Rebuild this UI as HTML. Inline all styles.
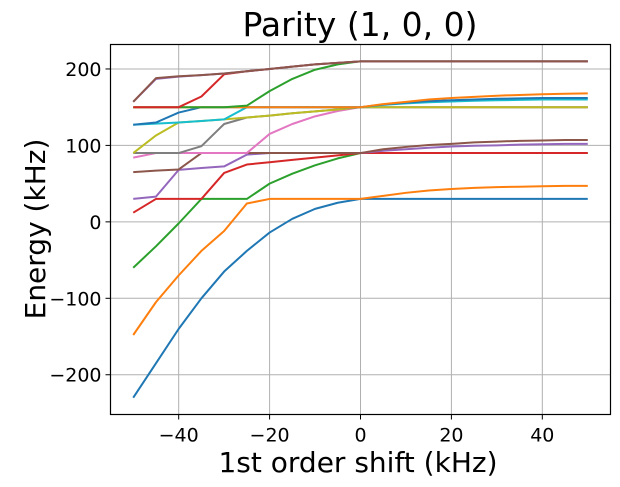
<!DOCTYPE html>
<html><head><meta charset="utf-8"><style>
html,body{margin:0;padding:0;background:#fff;}
svg{display:block;font-family:"DejaVu Sans","Liberation Sans",sans-serif;}
</style></head><body>
<svg id="chart" width="620" height="487" viewBox="0 0 620 487">
<rect x="0" y="0" width="620" height="487" fill="#fff"/>
<text x="360" y="36" font-size="33" text-anchor="middle" fill="#000">Parity (1, 0, 0)</text>
<g id="grid"></g>
<g id="plot"></g>
<rect x="110.5" y="44.5" width="500" height="370" fill="none" stroke="#000" stroke-width="1.2"/>
<g id="ticks"></g>
<text x="358" y="472" font-size="28" text-anchor="middle" fill="#000">1st order shift (kHz)</text>
<text transform="translate(45,229) rotate(-90)" font-size="28" text-anchor="middle" fill="#000">Energy (kHz)</text>
</svg>
<script>
const xs = [-50,-45,-40,-35,-30,-25,-20,-15,-10,-5,0,5,10,15,20,25,30,35,40,45,50];
const xTicks = [-40,-20,0,20,40];
const yTicks = [-200,-100,0,100,200];
const colors = ["#1f77b4","#ff7f0e","#2ca02c","#d62728","#9467bd","#8c564b","#e377c2","#7f7f7f","#bcbd22","#17becf"];
const s0 = [-230,-185,-140,-100,-65,-38,-14,4,17,25,30,30,30,30,30,30,30,30,30,30,30];
const s1 = [-148,-105,-70,-38,-12,24,30,30,30,30,30,34,38,41,43,44.5,45.5,46,46.5,47,47];
const s2 = [-60,-32,-2,30,30,30,50,63,74,83,90,90,90,90,90,90,90,90,90,90,90];
const s3 = [12,30,30,30,64,75,78,81,84,87,90,90,90,90,90,90,90,90,90,90,90];
const s4 = [30,33,68,70.5,72.5,88,90,90,90,90,90,93,95,97,98.5,99.5,100,101,101.5,102,102];
const s5 = [65,67,68.5,90,90,90,90,90,90,90,90,95,98,100.5,102,104,105,106,106.5,107,107];
const s6 = [84,90,90,90,90,90,115,128,138,145,150,150,150,150,150,150,150,150,150,150,150];
const s7 = [90,90,90,99,128,136.5,139,142,144.5,147,150,150,150,150,150,150,150,150,150,150,150];
const s8 = [90,113,130,132,134,136.5,139,142,144.5,147,150,150,150,150,150,150,150,150,150,150,150];
const s9 = [127,128.5,130,132,134,150,150,150,150,150,150,153,155,156.5,157.5,158.5,159,159.5,160,160,160];
const s10 = [127,130,143,150,150,150,150,150,150,150,150,153.5,156,158,159,160,161,161.5,162,162,162];
const s11 = [150,150,150,150,150,150,150,150,150,150,150,154,157,160,162,163.5,165,166,167,167.5,168];
const s12 = [150,150,150,150,150,152,171,187,199,206,210,210,210,210,210,210,210,210,210,210,210];
const s13 = [150,150,150,164,193,197,200,203,206,208,210,210,210,210,210,210,210,210,210,210,210];
const s14 = [157,187,190,192,194,197,200,203,206,208,210,210,210,210,210,210,210,210,210,210,210];
const s15 = [157,188,190.5,192,194,197,200,203,206,208,210,210,210,210,210,210,210,210,210,210,210];
const series = [s0,s1,s2,s3,s4,s5,s6,s7,s8,s9,s10,s11,s12,s13,s14,s15];

const NS = "http://www.w3.org/2000/svg";
const X0 = 110.5, X1 = 610.5, Y0 = 414.5, Y1 = 44.5;
const xMin = -55, xMax = 55, yMin = -252, yMax = 232;
function xPos(v){ return X0 + (v - xMin) / (xMax - xMin) * (X1 - X0); }
function yPos(v){ return Y0 - (v - yMin) / (yMax - yMin) * (Y0 - Y1); }

const grid = document.getElementById('grid');
const ticks = document.getElementById('ticks');
xTicks.forEach(t => {
  const gx = xPos(t);
  const l = document.createElementNS(NS,'line');
  l.setAttribute('x1',gx); l.setAttribute('x2',gx); l.setAttribute('y1',Y1); l.setAttribute('y2',Y0);
  l.setAttribute('stroke','#b0b0b0'); l.setAttribute('stroke-width','1');
  
  
  grid.appendChild(l);
  const tk = document.createElementNS(NS,'line');
  tk.setAttribute('x1',gx); tk.setAttribute('x2',gx); tk.setAttribute('y1',Y0); tk.setAttribute('y2',Y0+5);
  tk.setAttribute('stroke','#000');
  
  
  ticks.appendChild(tk);
  const tx = document.createElementNS(NS,'text');
  tx.setAttribute('x',gx); tx.setAttribute('y',Y0+27); tx.setAttribute('font-size','19'); tx.setAttribute('text-anchor','middle');
  tx.textContent = t < 0 ? '\u2212' + Math.abs(t) : String(t);
  
  
  ticks.appendChild(tx);
});
yTicks.forEach(t => {
  const gy = yPos(t);
  const l = document.createElementNS(NS,'line');
  l.setAttribute('x1',X0); l.setAttribute('x2',X1); l.setAttribute('y1',gy); l.setAttribute('y2',gy);
  l.setAttribute('stroke','#b0b0b0'); l.setAttribute('stroke-width','1');
  
  
  grid.appendChild(l);
  const tk = document.createElementNS(NS,'line');
  tk.setAttribute('x1',X0-5); tk.setAttribute('x2',X0); tk.setAttribute('y1',gy); tk.setAttribute('y2',gy);
  tk.setAttribute('stroke','#000');
  
  
  ticks.appendChild(tk);
  const tx = document.createElementNS(NS,'text');
  tx.setAttribute('x',X0-9); tx.setAttribute('y',gy+7); tx.setAttribute('font-size','19'); tx.setAttribute('text-anchor','end');
  tx.textContent = t < 0 ? '\u2212' + Math.abs(t) : String(t);
  
  
  ticks.appendChild(tx);
});

const plot = document.getElementById('plot');
series.forEach((s, i) => {
  const p = document.createElementNS(NS,'polyline');
  p.setAttribute('points', s.map((v,j) => xPos(xs[j]).toFixed(2) + ',' + yPos(v).toFixed(2)).join(' '));
  p.setAttribute('fill','none');
  p.setAttribute('stroke', colors[i % 10]);
  p.setAttribute('stroke-width','2');
  p.setAttribute('stroke-linejoin','round');
  
  
  plot.appendChild(p);
});
</script>
</body></html>
